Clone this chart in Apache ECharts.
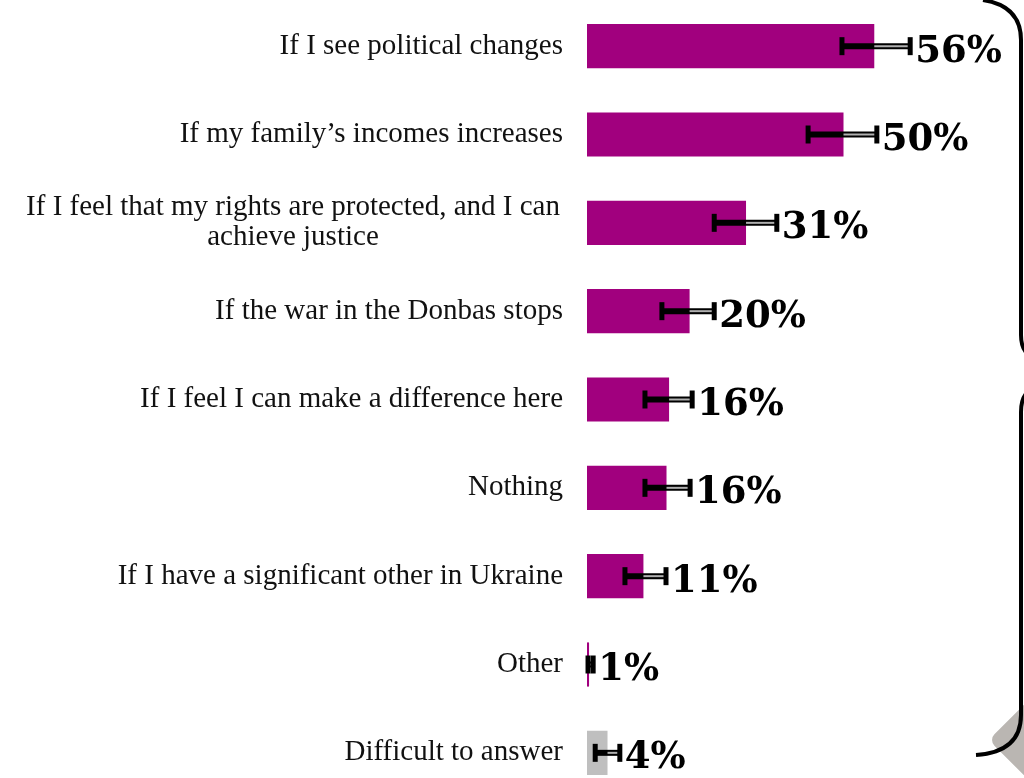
<!DOCTYPE html>
<html>
<head>
<meta charset="utf-8">
<script src="https://cdn.jsdelivr.net/npm/echarts@6/dist/echarts.min.js"></script>
<style>
  html, body { margin: 0; padding: 0; background: #fff; overflow: hidden; }
  #chart { width: 1024px; height: 800px; }
</style>
</head>
<body>
<div id="chart"></div>
<script>
// answers, top to bottom
var categories = [
  'If I see political changes',
  'If my family\u2019s incomes increases',
  'If I feel that my rights are protected, and I can\nachieve justice',
  'If the war in the Donbas stops',
  'If I feel I can make a difference here',
  'Nothing',
  'If I have a significant other in Ukraine',
  'Other',
  'Difficult to answer'
];
var values = [56, 50, 31, 20, 16, 15.5, 11, 0.4, 4];
var errLow = [49.7, 43.1, 24.8, 14.6, 11.3, 11.3, 7.4, 0.2, 1.6];
var errHigh = [63.0, 56.5, 37.0, 24.8, 20.5, 20.1, 15.4, 1.2, 6.4];
var valueLabels = ['56%', '50%', '31%', '20%', '16%', '16%', '11%', '1%', '4%'];

var magenta = '#a1007e';
var grey = '#bfbfbf';

var chart = echarts.init(document.getElementById('chart'));

var barData = values.map(function (v, i) {
  return {
    value: v,
    itemStyle: { color: i == values.length - 1 ? grey : magenta }
  };
});

var errData = values.map(function (v, i) {
  return [i, v, errLow[i], errHigh[i]];
});

function renderErr(params, api) {
  var i = api.value(0);
  var y = api.coord([0, i])[1];
  var pV = api.coord([api.value(1), i])[0];
  var pL = api.coord([api.value(2), i])[0];
  var pH = api.coord([api.value(3), i])[0];
  var capH = 9;
  return {
    type: 'group',
    children: [
      // black stroke across the whole range
      { type: 'line', shape: { x1: pL, y1: y, x2: pH, y2: y }, style: { stroke: '#000', lineWidth: 6 } },
      // lighter inner line outside the bar
      { type: 'line', shape: { x1: pV, y1: y, x2: pH - 2, y2: y }, style: { stroke: '#b0b0b0', lineWidth: 2 } },
      { type: 'rect', shape: { x: pL - 2.5, y: y - capH, width: 5, height: capH * 2 }, style: { fill: '#000' } },
      { type: 'rect', shape: { x: pH - 2.5, y: y - capH, width: 5, height: capH * 2 }, style: { fill: '#000' } },
      {
        type: 'text',
        x: pH + 5,
        y: y + 6,
        style: {
          text: valueLabels[i],
          fill: '#000',
          font: 'bold 37px "DejaVu Serif", serif',
          verticalAlign: 'middle',
          align: 'left'
        }
      }
    ]
  };
}

var braceStyle = { stroke: '#000', lineWidth: 4, fill: null };

var option = {
  animation: false,
  grid: {
    left: 587,
    top: 2,
    width: 410.4,
    height: 795
  },
  xAxis: {
    type: 'value',
    min: 0,
    max: 80,
    show: false
  },
  yAxis: {
    type: 'category',
    inverse: true,
    data: categories,
    axisLine: { show: false },
    axisTick: { show: false },
    axisLabel: {
      margin: 24,
      color: '#111',
      fontFamily: '"Liberation Serif", serif',
      fontSize: 29,
      lineHeight: 30,
      formatter: function (v) {
        if (v.indexOf('\n') >= 0) {
          return v.split('\n').map(function (s) { return '{c|' + s + '}'; }).join('\n');
        }
        return v;
      },
      rich: {
        c: {
          width: 540,
          align: 'center',
          fontFamily: '"Liberation Serif", serif',
          fontSize: 29,
          lineHeight: 30,
          color: '#111'
        }
      }
    }
  },
  series: [
    {
      type: 'bar',
      data: barData,
      barCategoryGap: '50%',
      silent: true
    },
    {
      type: 'custom',
      renderItem: renderErr,
      data: errData,
      encode: { x: [1, 2, 3], y: 0 },
      z: 5,
      silent: true
    }
  ],
  graphic: [
    // grey tab bottom right
    {
      type: 'rect',
      shape: { x: -32, y: -32, width: 64, height: 64, r: 8 },
      x: 1034, y: 740,
      rotation: Math.PI / 4,
      style: { fill: '#bab6b2' },
      z: 1
    },
    // top brace
    { type: 'bezierCurve', shape: { x1: 983, y1: 0, cpx1: 1021, cpy1: 6, x2: 1021, y2: 40 }, style: braceStyle, z: 2 },
    { type: 'line', shape: { x1: 1021, y1: 40, x2: 1021, y2: 335 }, style: braceStyle, z: 2 },
    { type: 'bezierCurve', shape: { x1: 1021, y1: 335, cpx1: 1021, cpy1: 350, x2: 1030, y2: 356 }, style: braceStyle, z: 2 },
    // lower brace
    { type: 'bezierCurve', shape: { x1: 1030, y1: 390, cpx1: 1021, cpy1: 396, x2: 1021, y2: 412 }, style: braceStyle, z: 2 },
    { type: 'line', shape: { x1: 1021, y1: 412, x2: 1021, y2: 715 }, style: braceStyle, z: 2 },
    { type: 'bezierCurve', shape: { x1: 1021, y1: 715, cpx1: 1021, cpy1: 752, x2: 976, y2: 755 }, style: braceStyle, z: 2 }
  ]
};

chart.setOption(option);
</script>
</body>
</html>
